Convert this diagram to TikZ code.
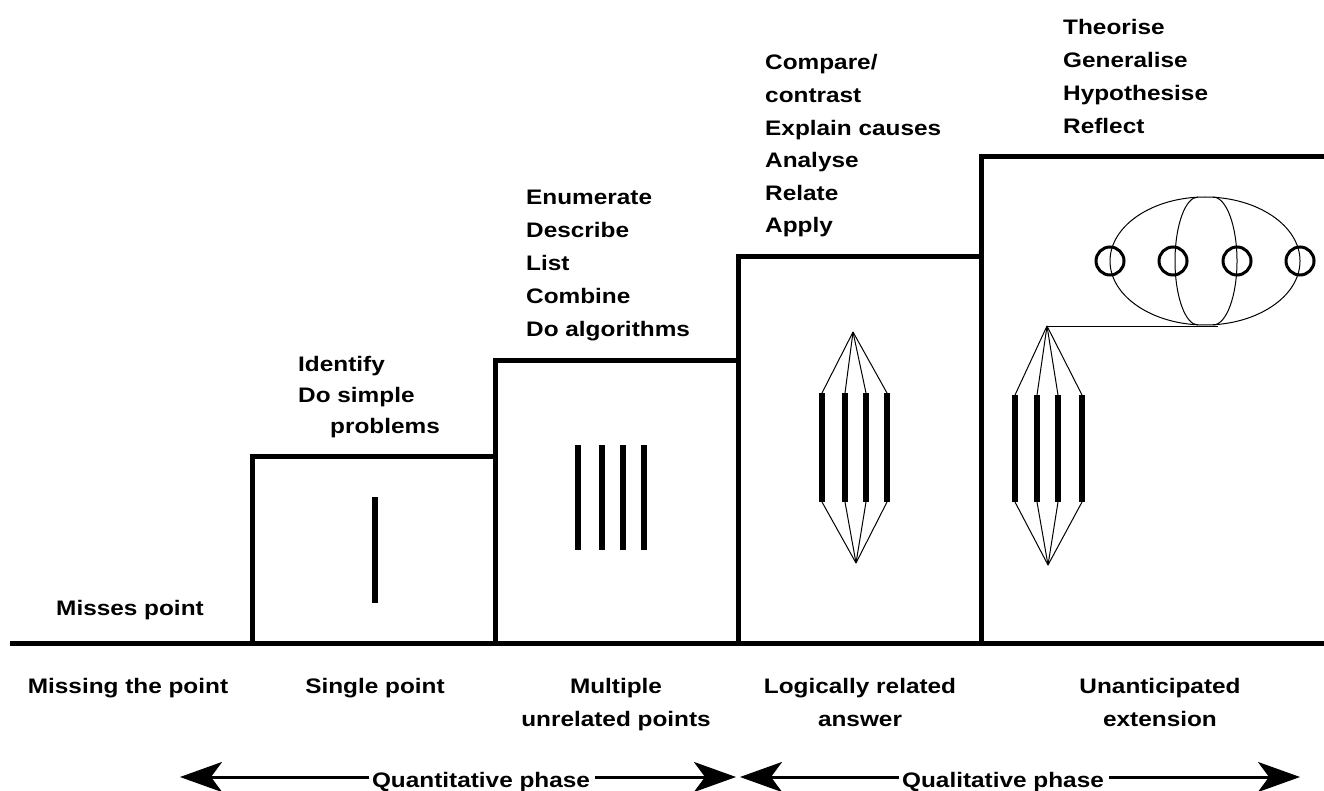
\documentclass[tikz,border=0pt]{standalone}
\usepackage{fontspec}
\newfontfamily\labfont[FakeStretch=1.16]{Liberation Sans}
\usetikzlibrary{arrows.meta,shapes.geometric}
\begin{document}
\begin{tikzpicture}[x=1pt,y=-1pt,
  lbl/.style={font=\labfont\bfseries\fontsize{21}{24}\selectfont, inner sep=0pt},
  stairline/.style={line width=5pt, line join=miter},
  bar/.style={line width=6.5pt},
  thinline/.style={line width=1pt},
  ring/.style={line width=3pt},
  phasearrow/.style={line width=3pt, -{Stealth[length=42pt,width=30pt,inset=11pt]}}
]
\useasboundingbox (0,0) rectangle (1324,791);

% stairs
\draw[stairline] (10,643) -- (1324,643);
\draw[stairline] (252,643) -- (252,456) -- (495,456);
\draw[stairline] (495,643) -- (495,360) -- (738,360);
\draw[stairline] (738,643) -- (738,257) -- (981,257);
\draw[stairline] (981,643) -- (981,157) -- (1324,157);

% single point
\draw[bar] (375,497) -- (375,603);

% multiple points
\foreach \x in {578,602,623,644} \draw[bar] (\x,445) -- (\x,550);

% logically related
\coordinate (la) at (853,332);
\coordinate (lb) at (856,563);
\foreach \x [count=\i] in {822,845,866,887} {
  \coordinate (lt\i) at (\x,393);
  \coordinate (lbt\i) at (\x,502);
  \draw[bar] (lt\i) -- (lbt\i);
  \draw[thinline] (la) -- (lt\i);
  \draw[thinline] (lbt\i) -- (lb);
}

% extension
\coordinate (ea) at (1047,326);
\coordinate (eb) at (1048,565);
\foreach \x [count=\i] in {1015,1037,1058,1082} {
  \coordinate (et\i) at (\x,395);
  \coordinate (ebt\i) at (\x,502);
  \draw[bar] (et\i) -- (ebt\i);
  \draw[thinline] (ea) -- (et\i);
  \draw[thinline] (ebt\i) -- (eb);
}
\node[draw, thinline, ellipse, minimum width=190pt, minimum height=128pt, inner sep=0pt] (big) at (1205,261) {};
\coordinate (ee) at (1218,326);
\draw[thinline] (ea) -- (ee);
\draw[thinline] (1198,197) arc[start angle=270, end angle=90, x radius=23, y radius=64];
\draw[thinline] (1213,197) arc[start angle=270, end angle=450, x radius=24, y radius=64];
\foreach \x in {1110,1173,1237,1300} \draw[ring] (\x,261) circle[radius=14];

% upper texts
\foreach \t [count=\i] in {Theorise,Generalise,Hypothesise,Reflect}
  \node[lbl, anchor=base west] (tq\i) at (1063,{35+32.7*(\i-1)}) {\t};
\foreach \t [count=\i] in {Compare/,contrast,Explain causes,Analyse,Relate,Apply}
  \node[lbl, anchor=base west] (tc\i) at (765,{70+32.6*(\i-1)}) {\t};
\foreach \t [count=\i] in {Enumerate,Describe,List,Combine,Do algorithms}
  \node[lbl, anchor=base west] (te\i) at (526,{205+33*(\i-1)}) {\t};
\node[lbl, anchor=base west] (ti1) at (298,371) {Identify};
\node[lbl, anchor=base west] (ti2) at (298,402) {Do simple};
\node[lbl, anchor=base west] (ti3) at (330,433) {problems};
\node[lbl, anchor=base] (miss) at (130,615) {Misses point};

% lower labels
\node[lbl, anchor=base] (b1) at (128,693) {Missing the point};
\node[lbl, anchor=base] (b2) at (375,693) {Single point};
\node[lbl, anchor=base] (b3a) at (616,693) {Multiple};
\node[lbl, anchor=base] (b3b) at (616,726) {unrelated points};
\node[lbl, anchor=base] (b4a) at (860,693) {Logically related};
\node[lbl, anchor=base] (b4b) at (860,726) {answer};
\node[lbl, anchor=base] (b5a) at (1160,693) {Unanticipated};
\node[lbl, anchor=base] (b5b) at (1160,726) {extension};

% phase arrows
\node[lbl, anchor=base] (qt) at (481,787) {Quantitative phase};
\coordinate (qtL) at (180,777);
\coordinate (qtR) at (736,777);
\draw[phasearrow] ([xshift=-3pt]qt.west |- qtL) -- (qtL);
\draw[phasearrow] ([xshift=5pt]qt.east |- qtR) -- (qtR);
\node[lbl, anchor=base] (ql) at (1003,787) {Qualitative phase};
\coordinate (qlL) at (740,777);
\coordinate (qlR) at (1300,777);
\draw[phasearrow] ([xshift=-3pt]ql.west |- qlL) -- (qlL);
\draw[phasearrow] ([xshift=5pt]ql.east |- qlR) -- (qlR);
\end{tikzpicture}
\end{document}
